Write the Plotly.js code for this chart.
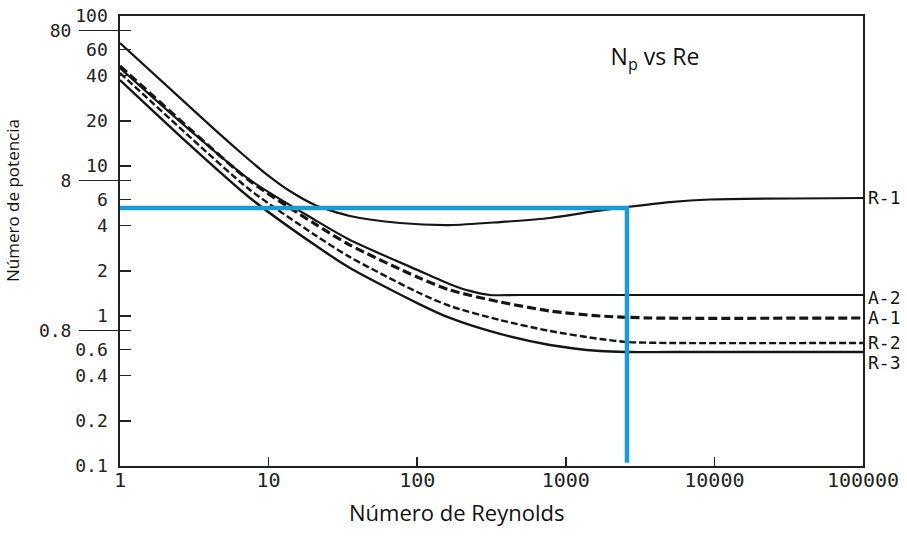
<!DOCTYPE html>
<html>
<head>
<meta charset="utf-8">
<script src="https://cdn.plot.ly/plotly-3.0.1.min.js"></script>
<style>html,body{margin:0;padding:0;background:#fff;}#chart{width:907px;height:546px;}</style>
</head>
<body>
<div id="chart"></div>
<script>
// Reynolds number (x) and power number (y)
const reR1 = [1, 3, 4.36, 6.42, 9.46, 13.9, 20.5, 35.3, 76.6, 166, 361, 783, 1455, 2580, 5020, 9340, 100000];
const npR1 = [66.1, 24.4, 17.4, 12.4, 8.98, 6.81, 5.5, 4.64, 4.17, 4.04, 4.23, 4.5, 4.94, 5.33, 5.75, 5.98, 6.12];

const reA2 = [1, 3, 7.5, 20.5, 35.3, 100, 166, 226, 309, 492, 100000];
const npA2 = [45, 17.1, 8.07, 4.37, 3.21, 2.03, 1.63, 1.47, 1.38, 1.38, 1.38];

const reA1 = [1, 3, 7.5, 20.5, 35.3, 100, 166, 361, 783, 1700, 3690, 100000];
const npA1 = [46.4, 17.4, 7.94, 4.11, 2.97, 1.82, 1.49, 1.24, 1.08, 1.0, 0.97, 0.97];

const reR2 = [1, 3, 7.5, 20.5, 35.3, 100, 166, 361, 783, 1700, 2580, 5020, 100000];
const npR2 = [41.7, 15.4, 6.92, 3.47, 2.47, 1.445, 1.166, 0.94, 0.794, 0.703, 0.671, 0.661, 0.661];

const reR3 = [1, 3, 7.5, 20.5, 35.3, 100, 166, 361, 783, 1700, 2580, 5020, 100000];
const npR3 = [37.4, 13.6, 6.12, 2.97, 2.09, 1.22, 0.97, 0.759, 0.641, 0.584, 0.575, 0.575, 0.575];

// blue reading guide
const guideRe = [1, 2580, 2580];
const guideNp = [5.25, 5.25, 0.105];

const seriesNames = ['R-1', 'A-2', 'A-1', 'R-2', 'R-3'];

const xTickVals = [1, 10, 100, 1000, 10000, 100000];
const xTickText = ['1', '10', '100', '1000', '10000', '100000'];
const yTickVals = [0.1, 0.2, 0.4, 0.6, 1, 2, 4, 6, 10, 20, 40, 60, 100];
const yTickText = ['0.1', '0.2', '0.4', '0.6', '1', '2', '4', '6', '10', '20', '40', '60', '100'];
const yExtraVals = [0.8, 8, 80];
const yExtraText = ['0.8', '8', '80'];

const ink = '#151515';
const mono = 'DejaVu Sans Mono';

const xs = [reR1, reA2, reA1, reR2, reR3];
const ys = [npR1, npA2, npA1, npR2, npR3];
const styles = [
  {width: 2.2, dash: 'solid'},
  {width: 2.2, dash: 'solid'},
  {width: 3.2, dash: '9px,4px'},
  {width: 2.4, dash: '7px,3px'},
  {width: 2.4, dash: 'solid'}
];

const traces = xs.map((x, i) => ({
  x: x, y: ys[i], name: seriesNames[i], type: 'scatter', mode: 'lines',
  line: {color: ink, width: styles[i].width, dash: styles[i].dash, shape: 'spline', smoothing: 0.7},
  hoverinfo: 'skip', showlegend: false
}));

traces.push({
  x: guideRe, y: guideNp, type: 'scatter', mode: 'lines', yaxis: 'y2',
  line: {color: '#1a9ad6', width: 4.5}, hoverinfo: 'skip', showlegend: false
});

const labelShift = [0, -2, 0, 0, -10];
const annotations = seriesNames.map((n, i) => ({
  text: n, xref: 'paper', x: 1, xshift: 3, xanchor: 'left',
  yref: 'y', y: Math.log10(ys[i][ys[i].length - 1]), yshift: labelShift[i], yanchor: 'middle',
  showarrow: false, font: {family: mono, size: 18, color: ink}
}));

annotations.push({
  text: 'Número de Reynolds', xref: 'paper', yref: 'paper', x: 0.453, y: -0.102,
  xanchor: 'center', yanchor: 'middle', showarrow: false,
  font: {family: 'Open Sans', size: 22, color: '#111'}
});
annotations.push({
  text: 'Número de potencia', xref: 'paper', yref: 'paper', x: -0.1454, y: 0.591,
  xanchor: 'center', yanchor: 'middle', textangle: -90, showarrow: false,
  font: {family: 'Open Sans', size: 17, color: '#111'}
});

const layout = {
  width: 907, height: 546,
  margin: {l: 120, r: 44, t: 16, b: 80},
  paper_bgcolor: '#fff', plot_bgcolor: '#fff',
  showlegend: false,
  title: {
    text: 'N<sub>p</sub> vs Re', x: 0.72, xanchor: 'center', y: 0.896, yanchor: 'middle',
    xref: 'paper', yref: 'container',
    font: {family: 'Open Sans', size: 23, color: '#111'}
  },
  xaxis: {
    type: 'log', range: [0, 5], tickvals: xTickVals, ticktext: xTickText,
    ticks: 'inside', ticklen: 9, tickwidth: 1.5, tickcolor: '#222',
    showline: true, linewidth: 1.6, linecolor: '#222', mirror: true,
    showgrid: false, zeroline: false, ticklabelstandoff: -5,
    tickfont: {family: mono, size: 20, color: '#222'}
  },
  yaxis: {
    type: 'log', range: [-1, 2], tickvals: yTickVals, ticktext: yTickText,
    ticks: 'inside', ticklen: 11, tickwidth: 1.5, tickcolor: '#222',
    minor: {tickvals: yExtraVals, ticks: 'inside', ticklen: 11, tickwidth: 1.5, tickcolor: '#222', showgrid: false},
    showline: true, linewidth: 1.6, linecolor: '#222', mirror: true,
    showgrid: false, zeroline: false, ticklabelstandoff: 7,
    tickfont: {family: mono, size: 18, color: '#222'}
  },
  yaxis2: {
    type: 'log', range: [-1, 2], overlaying: 'y', side: 'left', anchor: 'x',
    tickvals: yExtraVals, ticktext: yExtraText,
    ticks: 'outside', ticklen: 40, tickwidth: 1.5, tickcolor: '#222',
    showline: false, showgrid: false, zeroline: false, ticklabelstandoff: 4,
    tickfont: {family: mono, size: 18, color: '#222'}
  },
  annotations: annotations
};

Plotly.newPlot('chart', traces, layout, {staticPlot: true, displayModeBar: false});
</script>
</body>
</html>
